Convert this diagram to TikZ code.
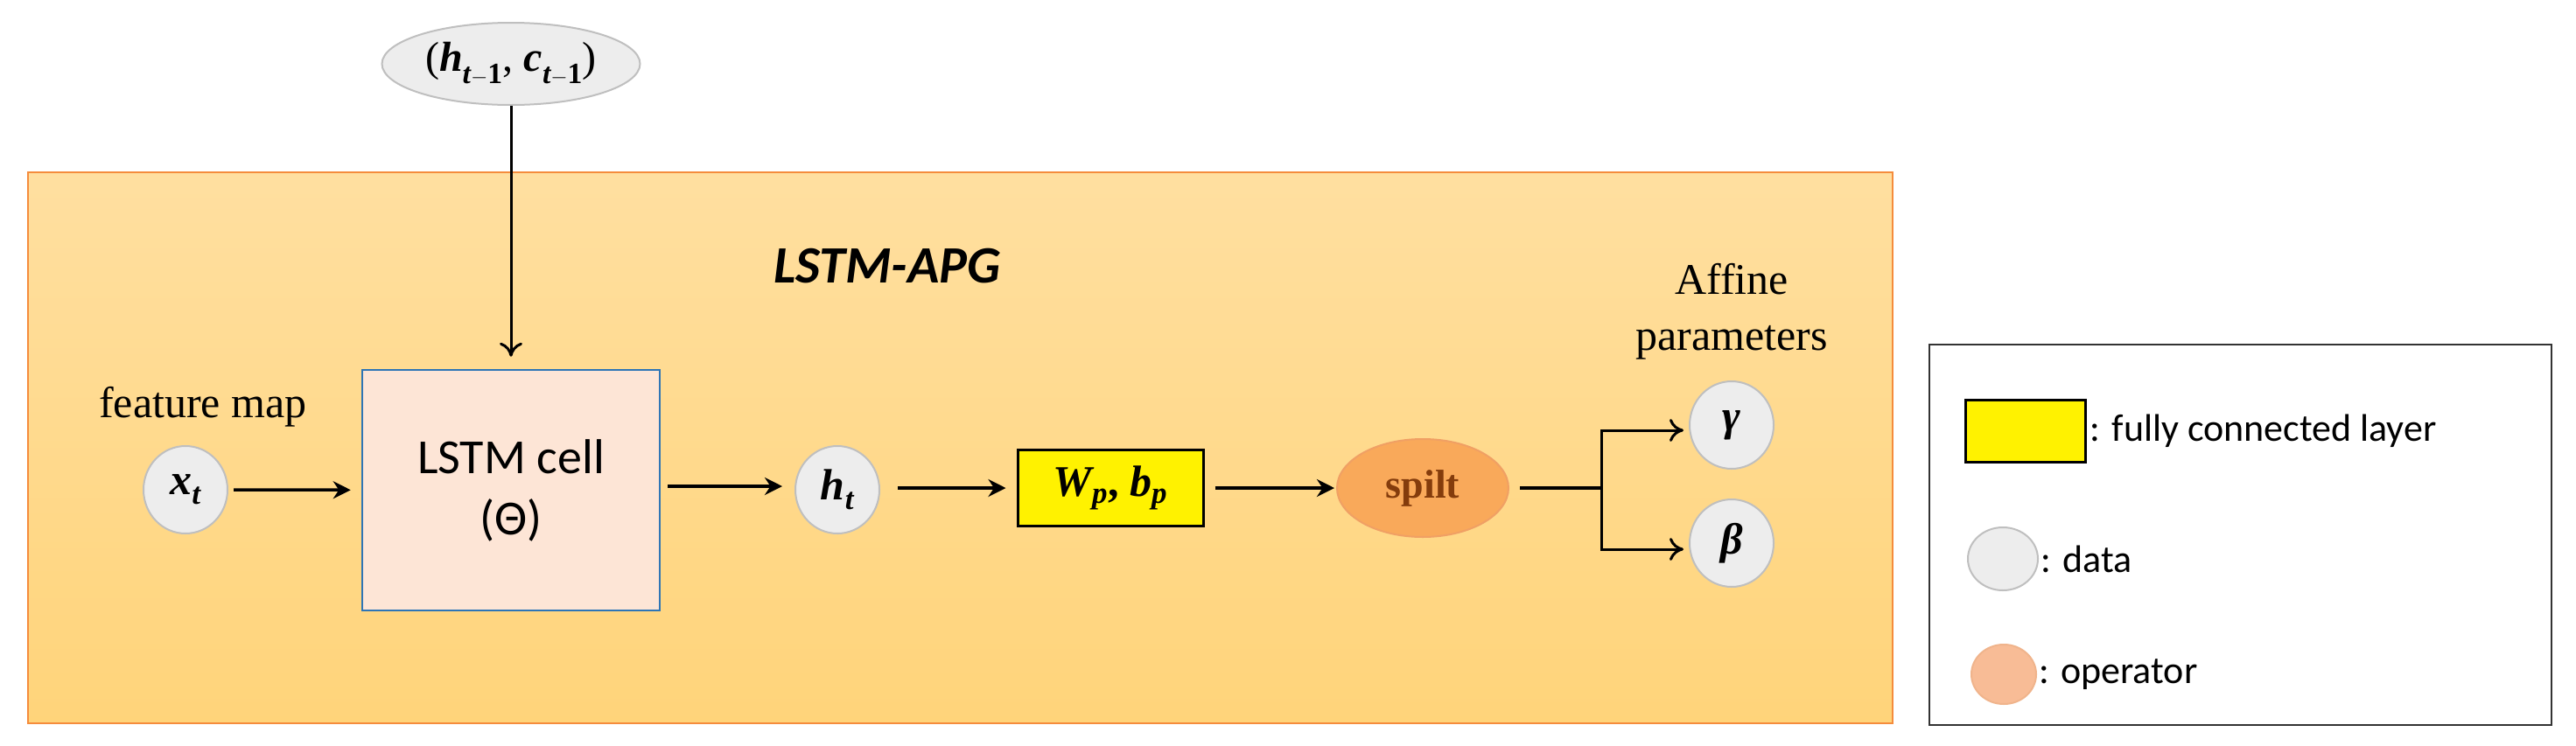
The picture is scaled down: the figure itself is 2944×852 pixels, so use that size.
\documentclass[tikz,border=0pt]{standalone}
\usepackage{fontspec}
\setmainfont{Liberation Serif}
\newfontfamily\carl{Carlito}
\usetikzlibrary{arrows.meta,shapes.geometric}
\newcommand{\bi}[1]{{\bfseries\itshape #1}}
\newcommand{\sz}[1]{\fontsize{#1}{#1}\selectfont}
\begin{document}
\begin{tikzpicture}[x=1pt,y=-1pt,
  data/.style={ellipse,draw=black!25,line width=2pt,fill=black!7,minimum width=96pt,minimum height=100pt,inner sep=0pt,font=\sz{50}},
  arr/.style={line width=3.5pt,-{Stealth[length=20pt,width=20pt]}},
  oarr/.style={line width=3pt,-{To[length=16pt,width=26pt]}},
  ]
\useasboundingbox (0,0) rectangle (2944,852);
\fill[white] (0,0) rectangle (2944,852);
\shade[top color={rgb,255:red,255;green,223;blue,160},bottom color={rgb,255:red,255;green,212;blue,122}] (32,197) rectangle (2163,827);
\draw[line width=2pt,draw={rgb,255:red,245;green,140;blue,60}] (32,197) rectangle (2163,827);
\node[font=\carl\bfseries\itshape\sz{60}] (title) at (1014,304) {LSTM-APG};
\node[data,minimum width=295pt,minimum height=94pt,font=\sz{48}] (prev) at (584,73) {(\bi{h}\textsubscript{\bi{t}$-$\textbf{1}}, \bi{c}\textsubscript{\bi{t}$-$\textbf{1}})};
\node[draw={rgb,255:red,46;green,117;blue,182},line width=2.5pt,fill={rgb,255:red,253;green,229;blue,214},minimum width=340pt,minimum height=275pt,align=center,font=\carl\sz{56}] (lstm) at (584,560.5) {LSTM cell\\[14pt](Θ)};
\node[data] (xt) at (212,560) {\bi{x}\textsubscript{\bi{t}}};
\node[font=\sz{50}] (fm) at (232,465) {feature map};
\node[data] (ht) at (957,560) {\bi{h}\textsubscript{\bi{t}}};
\node[draw=black,line width=3pt,fill=yellow,minimum width=212pt,minimum height=87pt,font=\sz{50}] (fc) at (1269,558) {\bi{W}\textsubscript{\bi{p}}\textbf{,} \bi{b}\textsubscript{\bi{p}}};
\node[ellipse,draw={rgb,255:red,240;green,160;blue,100},line width=2pt,fill={rgb,255:red,249;green,169;blue,90},minimum width=196pt,minimum height=112pt,text={rgb,255:red,132;green,60;blue,12},font=\bfseries\sz{46}] (split) at (1626,558) {spilt};
\node[data] (gamma) at (1979,486) {\bi{γ}};
\node[data] (beta) at (1979,621) {\bi{β}};
\node[font=\sz{50},align=center] (aff) at (1979,356) {Affine\\[14pt]parameters};
\coordinate (br) at (1830,558);
\draw[arr,shorten <=6pt,shorten >=12pt] (xt) -- (lstm);
\draw[arr,shorten <=8pt,shorten >=14pt] (lstm.east |- 556,556) -- (ht.west |- 556,556);
\draw[arr,shorten <=20pt,shorten >=12pt] (ht.east |- 558,558) -- (fc);
\draw[arr,shorten <=12pt,shorten >=2pt] (fc) -- (split);
\draw[oarr,shorten >=14pt] (prev) -- (lstm);
\draw[line width=3.5pt] (split.east) ++(12pt,0) -- (br);
\draw[oarr,shorten >=6pt] (br) |- (gamma.west |- 0,492);
\draw[oarr,shorten >=6pt] (br) |- (beta.west |- 0,628);
% legend
\draw[line width=2.5pt,draw=black!80] (2205,394) rectangle (2916,829);
\node[draw=black,line width=3pt,fill=yellow,minimum width=137pt,minimum height=71pt] (lfc) at (2315,493) {};
\node[anchor=west,font=\carl\sz{44}] (lfct) at (lfc.east) {: fully connected layer};
\node[ellipse,draw=black!25,line width=2pt,fill=black!7,minimum width=80pt,minimum height=72pt] (ld) at (2289,639) {};
\node[anchor=west,font=\carl\sz{44},inner sep=2pt] (ldt) at (ld.east) {: data};
\node[ellipse,draw={rgb,255:red,240;green,180;blue,140},line width=2pt,fill={rgb,255:red,248;green,188;blue,150},minimum width=74pt,minimum height=68pt] (lo) at (2290,771) {};
\node[anchor=west,font=\carl\sz{44},inner sep=2pt] (lot) at (lo.east) {: operator};
\end{tikzpicture}
\end{document}
